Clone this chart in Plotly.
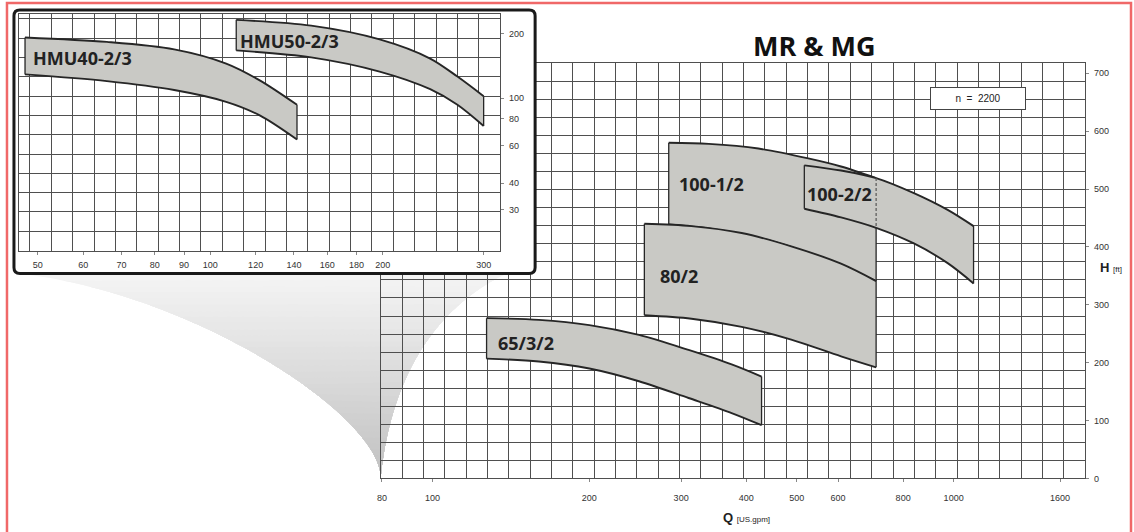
import math
import plotly.graph_objects as go

W, H = 1134, 532

# ---------------- data ----------------
# Main chart: Q [US gpm] (log), H [ft]
q_65 = [127, 160, 200, 249, 310, 375, 428]
h_65_top = [277, 274, 265, 248, 222, 197, 176]
h_65_bot = [207, 202, 190, 168, 139, 113, 92]

q_80 = [255, 314, 392, 488, 608, 710]
h_80_top = [440, 436, 424, 401, 371, 341]
h_80_bot = [282, 276, 262, 240, 211, 192]

q_100_1 = [284, 339, 422, 526, 608, 710]
h_100_1_top = [580, 578, 570, 553, 539, 519]
h_100_1_bot = [439, 432, 416, 390, 368, 341]

q_100_2 = [517, 608, 710, 839, 974, 1092]
h_100_2_top = [541, 532, 519, 493, 464, 436]
h_100_2_bot = [466, 451, 433, 406, 372, 337]

# Inset: Q [US gpm] (log), H [ft] (log)
q_hmu40 = [47.5, 66, 86.5, 106.6, 122, 141.7]
h_hmu40_top = [192, 183, 169, 145, 121, 93]
h_hmu40_bot = [129, 120, 109, 96, 83, 64]

q_hmu50 = [111, 150, 197.5, 242, 270, 300]
h_hmu50_top = [232, 218, 188, 153, 126, 102]
h_hmu50_bot = [167, 155, 133, 110, 93, 74]

main_xticks = [80, 100, 200, 300, 400, 500, 600, 800, 1000, 1600]
main_yticks = [0, 100, 200, 300, 400, 500, 600, 700]
inset_xticks = [50, 60, 70, 80, 90, 100, 120, 140, 160, 180, 200, 300]
inset_yticks = [30, 40, 60, 80, 100, 200]

# ---------------- helpers ----------------
def px(x):
    return x / W

def py(y):
    return 1 - y / H

FILL = "#c9c9c5"
EDGE = "#262626"

fig = go.Figure()

def band(q, top, bot, xa, ya):
    curve = dict(color=EDGE, width=1.9, shape="spline", smoothing=0.9)
    fig.add_trace(go.Scatter(x=q, y=bot, mode="lines", line=curve,
                             xaxis=xa, yaxis=ya, showlegend=False, hoverinfo="skip"))
    fig.add_trace(go.Scatter(x=q, y=top, mode="lines", line=curve, fill="tonexty",
                             fillcolor=FILL, xaxis=xa, yaxis=ya, showlegend=False,
                             hoverinfo="skip"))
    fig.add_trace(go.Scatter(x=[q[0], q[0], None, q[-1], q[-1]],
                             y=[top[0], bot[0], None, top[-1], bot[-1]],
                             mode="lines", line=dict(color=EDGE, width=1.3),
                             xaxis=xa, yaxis=ya, showlegend=False, hoverinfo="skip"))

# main subplot bands
band(q_100_1, h_100_1_top, h_100_1_bot, "x", "y")
band(q_80, h_80_top, h_80_bot, "x", "y")
band(q_65, h_65_top, h_65_bot, "x", "y")
band(q_100_2, h_100_2_top, h_100_2_bot, "x", "y")
# hidden right edge of 100-1/2 under 100-2/2 (dashed)
fig.add_trace(go.Scatter(x=[q_100_1[-1], q_100_1[-1]], y=[h_100_2_top[2], h_100_2_bot[2]],
                         mode="lines", line=dict(color="#555", width=1.2, dash="3px,2px"),
                         xaxis="x", yaxis="y", showlegend=False, hoverinfo="skip"))
# grid overlay (main)
fig.add_trace(go.Scatter(x=[None], y=[None], xaxis="x4", yaxis="y4", showlegend=False, hoverinfo="skip"))
# inset frame subplot (white background)
fig.add_trace(go.Scatter(x=[None], y=[None], xaxis="x2", yaxis="y2", showlegend=False, hoverinfo="skip"))
# inset bands
band(q_hmu40, h_hmu40_top, h_hmu40_bot, "x3", "y3")
band(q_hmu50, h_hmu50_top, h_hmu50_bot, "x3", "y3")
# grid overlay (inset)
fig.add_trace(go.Scatter(x=[None], y=[None], xaxis="x5", yaxis="y5", showlegend=False, hoverinfo="skip"))

GRID = "#4f4f4f"
TICKFONT = dict(family="Liberation Sans, Arial", size=9, color="#333")

# main axes geometry (pixels)
mx0, mx1, my0, my1 = 378, 1085, 64, 483
# inset axes geometry
ix0, ix1, iy0, iy1 = 15, 498, 14, 253

def mq(xp):   # main pixel -> Q
    return 100 * 10 ** ((xp - 430) / 523)

def mh(yp):   # main pixel -> ft
    return (483 - yp) / 0.5843

def iq(xp):
    return 100 * 10 ** ((xp - 207) / 575)

def ih(yp):
    return 100 * 10 ** ((99 - yp) / 216)

fig.update_layout(
    width=W, height=H, margin=dict(l=0, r=0, t=0, b=0),
    paper_bgcolor="white", plot_bgcolor="white", showlegend=False,
    xaxis=dict(type="log", domain=[px(mx0), px(mx1)], anchor="y",
               range=[math.log10(mq(mx0)), math.log10(mq(mx1))],
               tickvals=main_xticks, ticktext=[str(v) for v in main_xticks],
               showgrid=False, zeroline=False, showline=True, mirror=True,
               linecolor=GRID, linewidth=1, ticks="outside", ticklen=3, tickcolor="#888",
               tickfont=TICKFONT, ticklabelstandoff=8),
    yaxis=dict(domain=[py(my1), py(my0)], anchor="x", side="right",
               range=[mh(my1), mh(my0)], tickvals=main_yticks,
               showgrid=False, zeroline=False, showline=True, mirror=True,
               linecolor=GRID, linewidth=1, ticks="outside", ticklen=3, tickcolor="#888",
               tickfont=TICKFONT, ticklabelstandoff=3),
    xaxis4=dict(overlaying="x", anchor="y4", range=[0, 33], dtick=1, tick0=0,
                showgrid=True, gridcolor=GRID, gridwidth=1.1, zeroline=False,
                showticklabels=False, ticks="", showline=False),
    yaxis4=dict(overlaying="y", anchor="x4", side="right", range=[0, 23], dtick=1, tick0=0,
                showgrid=True, gridcolor=GRID, gridwidth=1.1, zeroline=False,
                showticklabels=False, ticks="", showline=False),
    xaxis2=dict(domain=[px(10), px(533)], anchor="y2", range=[0, 1], visible=False),
    yaxis2=dict(domain=[py(276), py(10)], anchor="x2", range=[0, 1], visible=False),
    xaxis3=dict(type="log", domain=[px(ix0), px(ix1)], anchor="y3",
                range=[math.log10(iq(ix0)), math.log10(iq(ix1))],
                tickvals=inset_xticks, ticktext=[str(v) for v in inset_xticks],
                showgrid=False, zeroline=False, showline=True, mirror=True,
                linecolor=GRID, linewidth=1, ticks="outside", ticklen=3, tickcolor="#888",
                tickfont=TICKFONT, ticklabelstandoff=3),
    yaxis3=dict(type="log", domain=[py(iy1), py(iy0)], anchor="x3", side="right",
                range=[math.log10(ih(iy1)), math.log10(ih(iy0))],
                tickvals=inset_yticks, ticktext=[str(v) for v in inset_yticks],
                showgrid=False, zeroline=False, showline=True, mirror=True,
                linecolor=GRID, linewidth=1, ticks="outside", ticklen=3, tickcolor="#888",
                tickfont=TICKFONT, ticklabelstandoff=3),
    xaxis5=dict(overlaying="x3", anchor="y5", range=[(ix0 - 26) / 21.45, (ix1 - 26) / 21.45],
                dtick=1, tick0=0, showgrid=True, gridcolor=GRID, gridwidth=1.1,
                zeroline=False, showticklabels=False, ticks="", showline=False),
    yaxis5=dict(overlaying="y3", anchor="x5", side="right", range=[0, (iy1 - iy0) / 19.5],
                dtick=1, tick0=0, showgrid=True, gridcolor=GRID, gridwidth=1.1,
                zeroline=False, showticklabels=False, ticks="", showline=False),
    hovermode=False,
)

# ---------------- decorations ----------------
def pt(x, y):
    return f"{px(x):.5f},{py(y):.5f}"

def bez(p0, p1, p2, p3, n=80):
    out = []
    for i in range(n + 1):
        t = i / n
        a, b, c, d = (1 - t) ** 3, 3 * (1 - t) ** 2 * t, 3 * (1 - t) * t ** 2, t ** 3
        out.append((a * p0[0] + b * p1[0] + c * p2[0] + d * p3[0],
                    a * p0[1] + b * p1[1] + c * p2[1] + d * p3[1]))
    return out

# zoom cone from inset down to the main chart corner, shaded light -> darker (smooth steps)
left_edge = bez((13, 276), (190, 295), (378, 420), (378, 482))
right_edge = bez((505, 276), (420, 316), (386, 400), (378, 482))
nsteps = 32
c_top, c_bot = 244, 196
for k in range(nsteps):
    ycut = 276 + k * (470 - 276) / nsteps
    g = round(c_top + (c_bot - c_top) * k / (nsteps - 1))
    col = f"rgb({g},{g},{g})"
    le = [p for p in left_edge if p[1] >= ycut]
    re = [p for p in right_edge if p[1] >= ycut]
    pts = le + re[::-1]
    path = "M " + " L ".join(pt(*p) for p in pts) + " Z"
    fig.add_shape(type="path", path=path, xref="paper", yref="paper", layer="below",
                  fillcolor=col, line=dict(width=0))

# inset frame (rounded)
r = 6
x0f, x1f, y0f, y1f = 10, 533, 10, 276
frame = (f"M {pt(x0f + r, y0f)} L {pt(x1f - r, y0f)} Q {pt(x1f, y0f)} {pt(x1f, y0f + r)} "
         f"L {pt(x1f, y1f - r)} Q {pt(x1f, y1f)} {pt(x1f - r, y1f)} "
         f"L {pt(x0f + r, y1f)} Q {pt(x0f, y1f)} {pt(x0f, y1f - r)} "
         f"L {pt(x0f, y0f + r)} Q {pt(x0f, y0f)} {pt(x0f + r, y0f)} Z")
fig.add_shape(type="path", path=frame, xref="paper", yref="paper", layer="above",
              line=dict(color="#1a1a1a", width=3), fillcolor="rgba(0,0,0,0)")

# red page border
fig.add_shape(type="rect", xref="paper", yref="paper", x0=px(3), x1=px(1131),
              y0=-0.05, y1=py(3), line=dict(color="#f06868", width=2.5), layer="above")

LABELFONT = dict(family="Open Sans, Liberation Sans", size=18, color="#222")
labels = [("HMU40-2/3", 79, 59), ("HMU50-2/3", 287, 41), ("100-1/2", 710, 186),
          ("100-2/2", 838, 196), ("80/2", 677, 279), ("65/3/2", 524, 346)]
for txt, lx, ly in labels:
    fig.add_annotation(text=f"<b>{txt}</b>", x=px(lx), y=py(ly), xref="paper", yref="paper",
                       showarrow=False, font=LABELFONT, xanchor="center", yanchor="middle")

fig.add_annotation(text="<b>MR &amp; MG</b>", x=px(813), y=py(46), xref="paper", yref="paper",
                   showarrow=False, xanchor="center", yanchor="middle",
                   font=dict(family="Open Sans, Liberation Sans", size=27, color="#111"))

fig.add_annotation(text="n  =  2200", x=px(977), y=py(99), xref="paper", yref="paper",
                   showarrow=False, xanchor="center", yanchor="middle",
                   font=dict(family="Liberation Sans", size=10, color="#222"),
                   bordercolor="#444", borderwidth=1, borderpad=3, bgcolor="white",
                   width=88, height=15)

fig.add_annotation(text="<b>Q</b> <span style='font-size:8px'>[US.gpm]</span>",
                   x=px(745), y=py(522), xref="paper", yref="paper", showarrow=False,
                   xanchor="center", yanchor="middle",
                   font=dict(family="Liberation Sans", size=13, color="#222"))
fig.add_annotation(text="<b>H</b> <span style='font-size:8px'>[ft]</span>",
                   x=px(1098), y=py(270), xref="paper", yref="paper", showarrow=False,
                   xanchor="left", yanchor="middle",
                   font=dict(family="Liberation Sans", size=13, color="#222"))

fig.write_html("out.html", config={"displayModeBar": False},
               post_script="document.body.style.margin='0';")
